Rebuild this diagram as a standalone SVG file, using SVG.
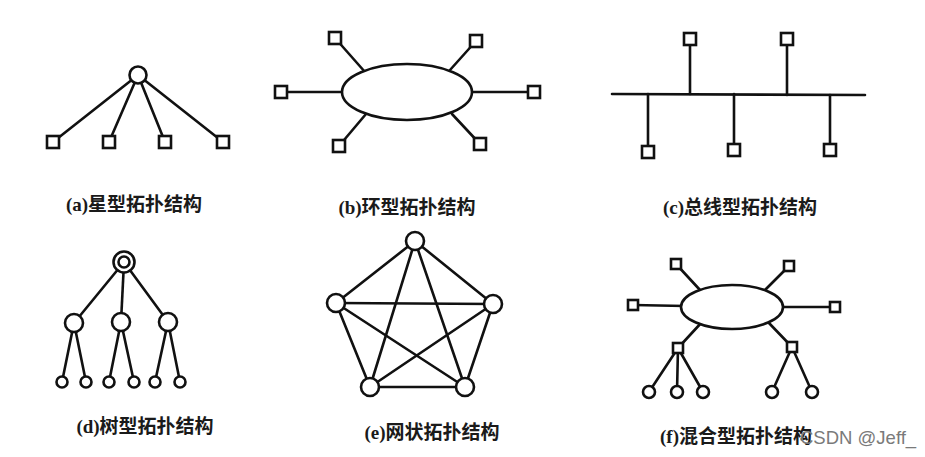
<svg xmlns="http://www.w3.org/2000/svg" width="925" height="457" viewBox="0 0 925 457">
<style>
.ln{stroke:#111;stroke-width:2.6;fill:none;stroke-linecap:round}
.nd{stroke:#111;stroke-width:2.6;fill:#fff}
.lb{font-family:"Liberation Serif","Noto Sans CJK SC",serif;font-weight:bold;font-size:19px;fill:#1a1a1a;text-anchor:middle}
.wm{font-family:"Liberation Sans","Noto Sans",sans-serif;font-size:18.5px;fill:#7a7a7a}
</style>
<rect width="925" height="457" fill="#fff"/>
<g id="connectors">
<!-- a star -->
<line class="ln" x1="138" y1="75" x2="53" y2="142"/>
<line class="ln" x1="138" y1="75" x2="109" y2="142"/>
<line class="ln" x1="138" y1="75" x2="165" y2="142"/>
<line class="ln" x1="138" y1="75" x2="223" y2="142"/>
<!-- b ring -->
<line class="ln" x1="335" y1="38" x2="365" y2="72"/>
<line class="ln" x1="476" y1="41" x2="450" y2="70"/>
<line class="ln" x1="281" y1="92" x2="345" y2="92"/>
<line class="ln" x1="534" y1="92" x2="470" y2="92"/>
<line class="ln" x1="339" y1="146" x2="366" y2="114"/>
<line class="ln" x1="480" y1="144" x2="452" y2="114"/>
<!-- c bus -->
<line class="ln" x1="612" y1="94" x2="865" y2="95"/>
<line class="ln" x1="690" y1="39" x2="690" y2="94"/>
<line class="ln" x1="787" y1="39" x2="787" y2="95"/>
<line class="ln" x1="648" y1="94" x2="648" y2="152"/>
<line class="ln" x1="734" y1="94" x2="734" y2="150"/>
<line class="ln" x1="830" y1="95" x2="830" y2="150"/>
<!-- d tree -->
<line class="ln" x1="124" y1="262" x2="74" y2="323"/>
<line class="ln" x1="124" y1="262" x2="121" y2="322"/>
<line class="ln" x1="124" y1="262" x2="168" y2="322"/>
<line class="ln" x1="74" y1="323" x2="62" y2="382"/>
<line class="ln" x1="74" y1="323" x2="86" y2="382"/>
<line class="ln" x1="121" y1="322" x2="109" y2="382"/>
<line class="ln" x1="121" y1="322" x2="134" y2="382"/>
<line class="ln" x1="168" y1="322" x2="155" y2="382"/>
<line class="ln" x1="168" y1="322" x2="180" y2="382"/>
<!-- e mesh -->
<line class="ln" x1="415" y1="241" x2="336" y2="303"/>
<line class="ln" x1="415" y1="241" x2="493" y2="304"/>
<line class="ln" x1="415" y1="241" x2="370" y2="387"/>
<line class="ln" x1="415" y1="241" x2="465" y2="387"/>
<line class="ln" x1="336" y1="303" x2="493" y2="304"/>
<line class="ln" x1="336" y1="303" x2="370" y2="387"/>
<line class="ln" x1="336" y1="303" x2="465" y2="387"/>
<line class="ln" x1="493" y1="304" x2="370" y2="387"/>
<line class="ln" x1="493" y1="304" x2="465" y2="387"/>
<line class="ln" x1="370" y1="387" x2="465" y2="387"/>
<!-- f hybrid -->
<line class="ln" x1="676" y1="264" x2="700" y2="290"/>
<line class="ln" x1="789" y1="266" x2="765" y2="290"/>
<line class="ln" x1="633" y1="305" x2="685" y2="306"/>
<line class="ln" x1="835" y1="307" x2="780" y2="307"/>
<line class="ln" x1="678" y1="348" x2="702" y2="322"/>
<line class="ln" x1="792" y1="347" x2="768" y2="322"/>
<line class="ln" x1="678" y1="348" x2="649" y2="392"/>
<line class="ln" x1="678" y1="348" x2="677" y2="392"/>
<line class="ln" x1="678" y1="348" x2="703" y2="392"/>
<line class="ln" x1="792" y1="347" x2="772" y2="392"/>
<line class="ln" x1="792" y1="347" x2="812" y2="392"/>
</g>
<g id="star">
<circle class="nd" cx="138" cy="75" r="8.5"/>
<rect class="nd" x="47" y="136" width="12" height="12"/>
<rect class="nd" x="103" y="136" width="12" height="12"/>
<rect class="nd" x="159" y="136" width="12" height="12"/>
<rect class="nd" x="217" y="136" width="12" height="12"/>
<text class="lb" x="134" y="211">(a)星型拓扑结构</text>
</g>
<g id="ring">
<ellipse class="nd" cx="407" cy="92" rx="65" ry="28"/>
<rect class="nd" x="329" y="32" width="12" height="12"/>
<rect class="nd" x="470" y="35" width="12" height="12"/>
<rect class="nd" x="275" y="86" width="12" height="12"/>
<rect class="nd" x="528" y="86" width="12" height="12"/>
<rect class="nd" x="333" y="140" width="12" height="12"/>
<rect class="nd" x="474" y="138" width="12" height="12"/>
<text class="lb" x="407" y="214">(b)环型拓扑结构</text>
</g>
<g id="bus">
<rect class="nd" x="684" y="33" width="12" height="12"/>
<rect class="nd" x="781" y="33" width="12" height="12"/>
<rect class="nd" x="642" y="146" width="12" height="12"/>
<rect class="nd" x="728" y="144" width="12" height="12"/>
<rect class="nd" x="824" y="144" width="12" height="12"/>
<text class="lb" x="740" y="214">(c)总线型拓扑结构</text>
</g>
<g id="tree">
<circle class="nd" cx="124" cy="262" r="10.5"/>
<circle class="nd" cx="124" cy="262" r="5.5"/>
<circle class="nd" cx="74" cy="323" r="9"/>
<circle class="nd" cx="121" cy="322" r="9"/>
<circle class="nd" cx="168" cy="322" r="9"/>
<circle class="nd" cx="62" cy="382" r="5.5"/>
<circle class="nd" cx="86" cy="382" r="5.5"/>
<circle class="nd" cx="109" cy="382" r="5.5"/>
<circle class="nd" cx="134" cy="382" r="5.5"/>
<circle class="nd" cx="155" cy="382" r="5.5"/>
<circle class="nd" cx="180" cy="382" r="5.5"/>
<text class="lb" x="145" y="433">(d)树型拓扑结构</text>
</g>
<g id="mesh">
<circle class="nd" cx="415" cy="241" r="9"/>
<circle class="nd" cx="336" cy="303" r="9"/>
<circle class="nd" cx="493" cy="304" r="9"/>
<circle class="nd" cx="370" cy="387" r="9"/>
<circle class="nd" cx="465" cy="387" r="9"/>
<text class="lb" x="432" y="439">(e)网状拓扑结构</text>
</g>
<g id="hybrid">
<ellipse class="nd" cx="732" cy="307" rx="51" ry="22"/>
<rect class="nd" x="671" y="259" width="10" height="10"/>
<rect class="nd" x="784" y="261" width="10" height="10"/>
<rect class="nd" x="628" y="300" width="10" height="10"/>
<rect class="nd" x="830" y="302" width="10" height="10"/>
<rect class="nd" x="673" y="343" width="10" height="10"/>
<rect class="nd" x="787" y="342" width="10" height="10"/>
<circle class="nd" cx="649" cy="392" r="6"/>
<circle class="nd" cx="677" cy="392" r="6"/>
<circle class="nd" cx="703" cy="392" r="6"/>
<circle class="nd" cx="772" cy="392" r="6"/>
<circle class="nd" cx="812" cy="392" r="6"/>
<text class="lb" x="736" y="443">(f)混合型拓扑结构</text>
</g>
<text class="wm" x="800" y="444">CSDN @Jeff_</text>
</svg>
